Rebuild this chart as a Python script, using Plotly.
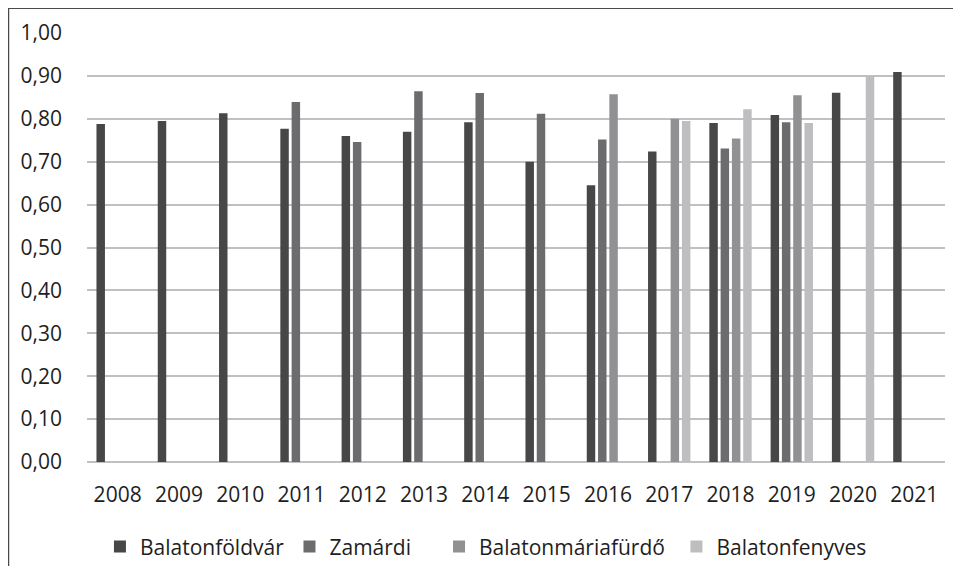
import plotly.graph_objects as go

years = ["2008", "2009", "2010", "2011", "2012", "2013", "2014",
         "2015", "2016", "2017", "2018", "2019", "2020", "2021"]

balatonfoldvar = [0.788, 0.795, 0.813, 0.777, 0.760, 0.770, 0.792,
                  0.700, 0.645, 0.724, 0.790, 0.809, 0.861, 0.909]
zamardi = [None, None, None, 0.839, 0.746, 0.864, 0.860,
           0.812, 0.752, None, 0.731, 0.792, None, None]
balatonmariafurdo = [None, None, None, None, None, None, None,
                     None, 0.857, 0.800, 0.754, 0.855, None, None]
balatonfenyves = [None, None, None, None, None, None, None,
                  None, None, 0.795, 0.822, 0.790, 0.900, None]

y_ticks = [0.0, 0.1, 0.2, 0.3, 0.4, 0.5, 0.6, 0.7, 0.8, 0.9, 1.0]
y_tick_labels = ["0,00", "0,10", "0,20", "0,30", "0,40", "0,50",
                 "0,60", "0,70", "0,80", "0,90", "1,00"]

series_names = ["Balatonföldvár", "Zamárdi", "Balatonmáriafürdő", "Balatonfenyves"]
series_values = [balatonfoldvar, zamardi, balatonmariafurdo, balatonfenyves]
series_colors = ["#474748", "#6c6c6e", "#919193", "#bebec0"]
legend_ids = ["legend", "legend2", "legend3", "legend4"]
legend_x = [0.0151, 0.2360, 0.4103, 0.6870]

fig = go.Figure()
for name, vals, col, lid in zip(series_names, series_values, series_colors, legend_ids):
    fig.add_trace(go.Bar(x=years, y=vals, name=name, marker_color=col,
                         marker_line_width=0, legend=lid))

font_family = "Open Sans, Lato, sans-serif"
text_color = "#1e1e1e"

legend_common = dict(orientation="h", xanchor="left", y=-0.198, yanchor="middle",
                     font=dict(size=21, color=text_color),
                     bgcolor="rgba(0,0,0,0)", itemclick=False)

layout_legends = {}
for lid, lx in zip(legend_ids, legend_x):
    layout_legends[lid] = dict(legend_common, x=lx)

fig.update_layout(
    width=945, height=558,
    margin=dict(l=79, r=8, t=25, b=104, autoexpand=False),
    paper_bgcolor="white", plot_bgcolor="white",
    barmode="group", bargap=0.263, bargroupgap=0.25,
    font=dict(family=font_family, size=21, color=text_color),
    showlegend=True,
    xaxis=dict(type="category", showgrid=False, showline=False,
               ticks="", tickfont=dict(size=21), ticklabelstandoff=18,
               automargin=False),
    yaxis=dict(range=[0, 1.0], tickvals=y_ticks, ticktext=y_tick_labels,
               showgrid=True, gridcolor="#c0c0c2", gridwidth=1.5,
               zeroline=True, zerolinecolor="#c0c0c2", zerolinewidth=1.5,
               showline=False, ticks="", tickfont=dict(size=21),
               ticklabelstandoff=24, automargin=False),
    shapes=[dict(type="rect", xref="paper", yref="paper",
                 x0=-0.0915, x1=1.05, y0=-0.35, y1=1.0575,
                 line=dict(color="#4a4a4a", width=1.5),
                 fillcolor="rgba(0,0,0,0)", layer="below")],
    **layout_legends,
)

fig.write_html("out.html")
